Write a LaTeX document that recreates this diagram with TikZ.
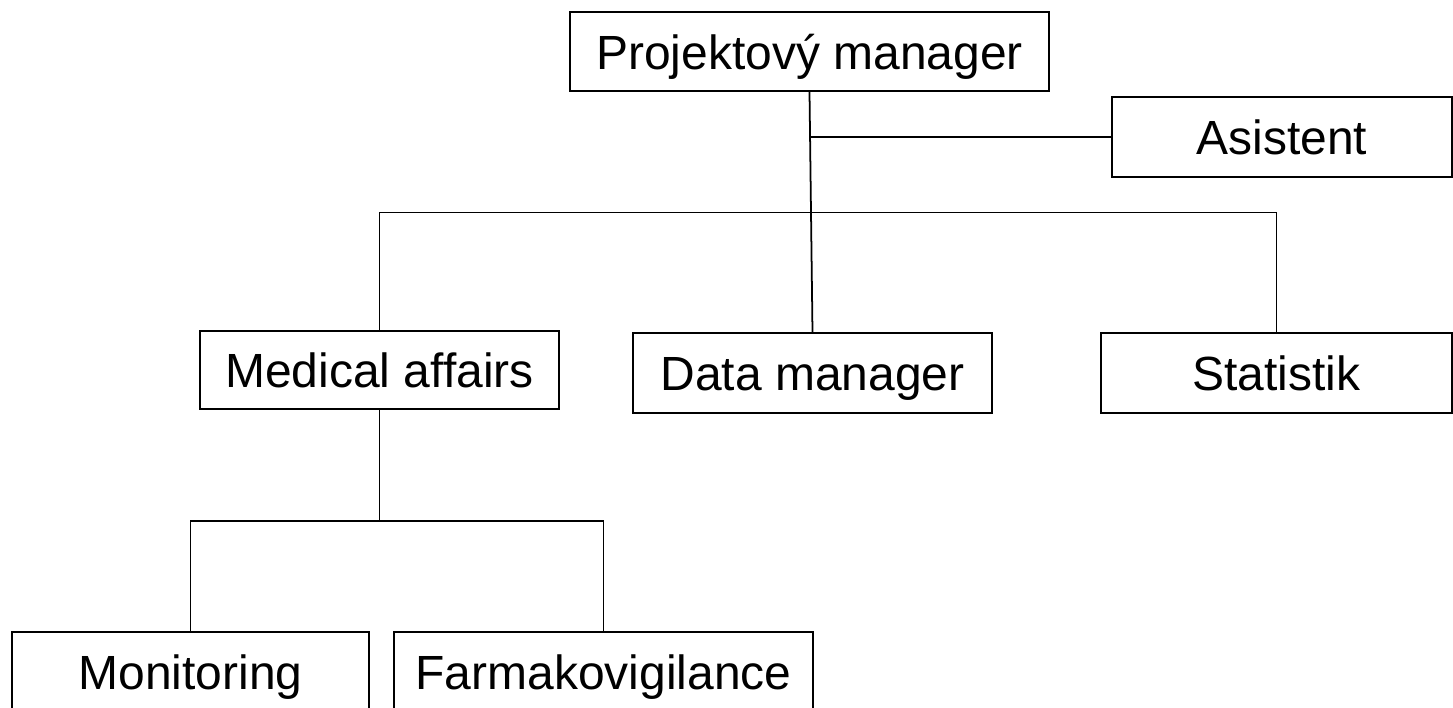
\documentclass[tikz,border=0pt]{standalone}
\usepackage{fontspec}
\setmainfont{Liberation Sans}
\begin{document}
\begin{tikzpicture}[box/.style={draw, line width=1pt, rectangle, inner sep=0pt, minimum height=1.6cm, text height=0.7cm, text depth=0cm, font=\fontsize{27.3}{32}\selectfont}]
\clip (0,0) rectangle (29.06,-14.14);

\node(PM)[box, minimum width=9.58cm, minimum height=1.58cm] at (16.19,-1.03) {Projektový manager};
\node(Asist)[box, minimum width=6.8cm] at (25.64,-2.74) {Asistent};

\node(MA)[box, minimum width=7.18cm, minimum height=1.56cm] at (7.59,-7.40) {Medical affairs};
\node(DM)[box, minimum width=7.18cm] at (16.25,-7.46) {Data manager};
\node(Stat)[box, minimum width=7.02cm] at (25.53,-7.46) {Statistik};

\node(Mon)[box, minimum width=7.14cm] at (3.81,-13.44) {Monitoring};
\node(Farm)[box, minimum width=8.38cm] at (12.07,-13.44) {Farmakovigilance};

\coordinate(bus1) at (0,-4.25);
\coordinate(bus2) at (0,-10.42);

\draw[line width=1pt] (PM.south) -- (DM.north);
\draw[line width=1pt] (Asist.west -| PM.south) -- (Asist.west);
\draw[line width=1pt] (MA.north) -- (MA.north |- bus1) -- (Stat.north |- bus1) -- (Stat.north);
\draw[line width=1pt] (MA.south) -- (MA.south |- bus2);
\draw[line width=1pt] (Mon.north) -- (Mon.north |- bus2) -- (Farm.north |- bus2) -- (Farm.north);
\end{tikzpicture}
\end{document}
